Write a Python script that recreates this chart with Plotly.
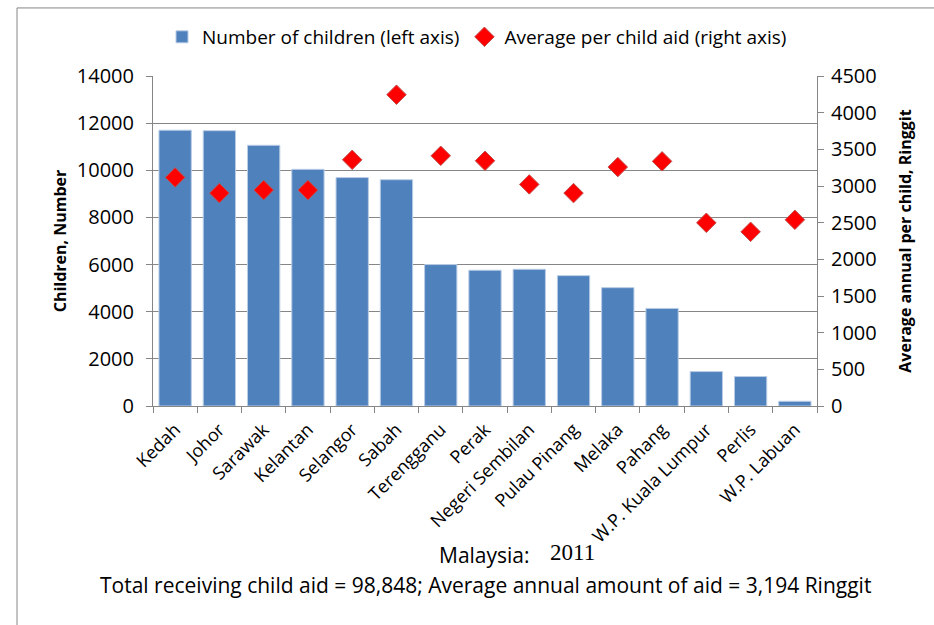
import plotly.graph_objects as go

states = ["Kedah", "Johor", "Sarawak", "Kelantan", "Selangor", "Sabah", "Terengganu", "Perak",
          "Negeri Sembilan", "Pulau Pinang", "Melaka", "Pahang", "W.P. Kuala Lumpur", "Perlis", "W.P. Labuan"]
children = [11700, 11680, 11060, 10040, 9690, 9600, 6000, 5760, 5800, 5530, 5020, 4140, 1460, 1250, 200]
avg_aid = [3117, 2903, 2944, 2944, 3357, 4245, 3412, 3344, 3022, 2903, 3258, 3336, 2498, 2375, 2539]

FONT = "Open Sans"
GRID = "#868686"

# plot area in page pixels
L, R, T, B = 153, 817, 76, 405.7
px = lambda xp: (xp - L) / (R - L)
py = lambda yp: (B - yp) / (B - T)

fig = go.Figure()
fig.add_trace(go.Bar(
    x=states, y=children, name="Number of children (left axis)",
    marker=dict(color="#4F81BD", line=dict(color="#B9CDE5", width=1)),
    yaxis="y",
))
fig.add_trace(go.Scatter(
    x=states, y=avg_aid, name="Average per child aid (right axis)", mode="markers",
    marker=dict(symbol="diamond", size=15, color="#FF0000", line=dict(color="#C0504D", width=1)),
    yaxis="y2",
))

fig.update_layout(
    width=934, height=625,
    paper_bgcolor="white", plot_bgcolor="white",
    margin=dict(l=L, r=934 - R, t=T, b=625 - B),
    font=dict(family=FONT, size=17, color="#000000"),
    bargap=0.27,
    showlegend=True,
    legend=dict(orientation="h", x=px(477), xanchor="center", y=py(37), yanchor="middle",
                font=dict(family=FONT, size=19), itemwidth=30, traceorder="normal"),
    xaxis=dict(
        range=[-0.5, len(states) - 0.5], autorange=False,
        tickangle=-45, tickfont=dict(family=FONT, size=18),
        ticklabelshift=0, ticklabelstandoff=5,
        showline=True, linecolor=GRID, linewidth=1,
        ticks="outside", tickson="boundaries", ticklen=6, tickcolor=GRID,
        showgrid=False,
    ),
    yaxis=dict(
        range=[0, 14000], dtick=2000, tickformat="d", tickfont=dict(family=FONT, size=20),
        ticklabelstandoff=8,
        showline=True, linecolor=GRID, linewidth=1,
        ticks="outside", ticklen=6, tickcolor=GRID,
        showgrid=True, gridcolor=GRID, gridwidth=1,
        zeroline=False,
        title=dict(text="<b>Children, Number</b>", font=dict(family=FONT, size=16), standoff=6),
    ),
    yaxis2=dict(
        range=[0, 4500], dtick=500, tickformat="d", overlaying="y", side="right",
        tickfont=dict(family=FONT, size=20), ticklabelstandoff=3,
        showline=True, linecolor=GRID, linewidth=1,
        ticks="outside", ticklen=6, tickcolor=GRID,
        showgrid=False, zeroline=False,
        title=dict(text="<b>Average annual per child, Ringgit</b>", font=dict(family=FONT, size=16), standoff=24),
    ),
)

# Bottom titles
fig.add_annotation(text="Malaysia:", xref="paper", yref="paper",
                   x=px(532), y=py(555), xanchor="right", yanchor="middle",
                   showarrow=False, font=dict(family=FONT, size=21))
fig.add_annotation(text="2011", xref="paper", yref="paper",
                   x=px(548), y=py(552), xanchor="left", yanchor="middle",
                   showarrow=False, font=dict(family="Liberation Serif", size=23))
fig.add_annotation(text="Total receiving child aid = 98,848; Average annual amount of aid = 3,194 Ringgit",
                   xref="paper", yref="paper",
                   x=px(485), y=py(585), xanchor="center", yanchor="middle",
                   showarrow=False, font=dict(family=FONT, size=21))

# outer chart frame (left and top edges visible)
fig.add_shape(type="line", xref="paper", yref="paper", x0=px(17), x1=px(17), y0=py(8), y1=py(640),
              line=dict(color="#868686", width=1))
fig.add_shape(type="line", xref="paper", yref="paper", x0=px(17), x1=px(950), y0=py(8), y1=py(8),
              line=dict(color="#868686", width=1))

fig.write_html("out.html", config={"displayModeBar": False},
               post_script="document.body.style.margin='0';")
